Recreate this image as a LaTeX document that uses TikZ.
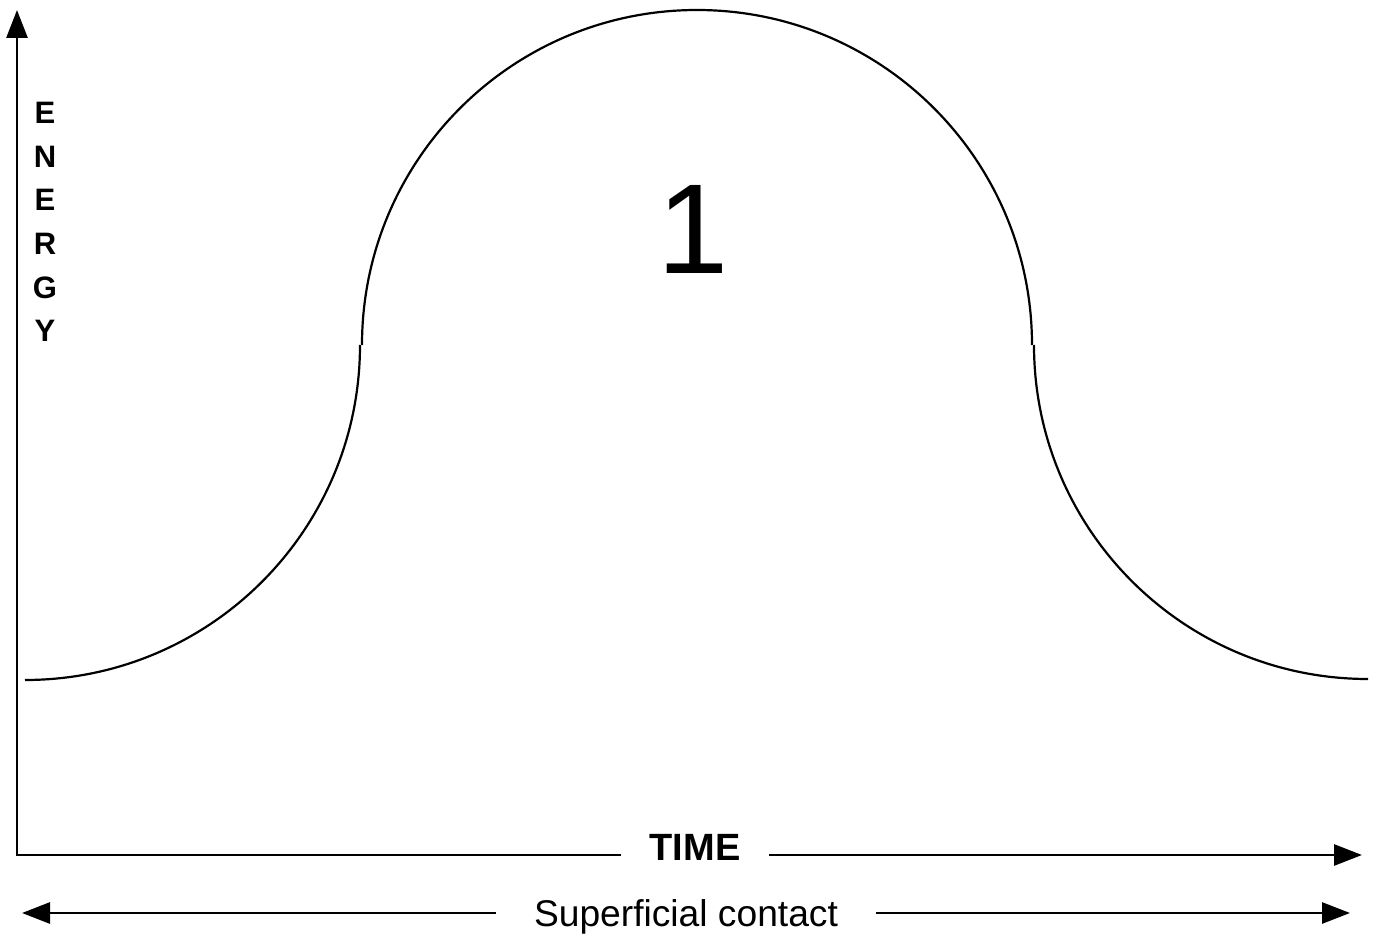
\documentclass[tikz,border=0pt]{standalone}
\usepackage{fontspec}
\setmainfont{Liberation Sans}
\usetikzlibrary{arrows.meta}
\begin{document}
\begin{tikzpicture}[x=0.5pt,y=0.5pt,
  axisline/.style={line width=1.4pt},
  tip/.style={-{Triangle[length=14pt,width=10.5pt]}},
  curveline/.style={line width=1.1pt},
  lbl/.style={inner sep=0pt}]
\useasboundingbox (0,0) rectangle (1378,934);
% coordinates
\coordinate (O) at (17,79);
\coordinate (ytip) at (17,924);
\coordinate (xtip) at (1362,79);
\coordinate (lt) at (22,21);
\coordinate (rt) at (1350,21);
% labels
\node[lbl, anchor=base, inner xsep=14pt, font=\bfseries\fontsize{19}{19}\selectfont] (time) at (695,74) {TIME};
\node[lbl, anchor=base, inner xsep=19pt, font=\fontsize{18.6}{18.6}\selectfont] (sc) at (686,8) {Superficial contact};
\node[lbl, anchor=north, align=center, font=\bfseries\fontsize{15.5}{21.8}\selectfont] (energy) at (45,832) {E\\N\\E\\R\\G\\Y};
\node[lbl, anchor=base, font=\fontsize{64}{64}\selectfont] (one) at (693,661) {1};
% axes
\draw[axisline, {Triangle[length=14pt,width=10.5pt]}-] (ytip) -- (O) -- (O -| time.west);
\draw[axisline, tip] (O -| time.east) -- (xtip);
% bottom double arrow
\draw[axisline, {Triangle[length=14pt,width=10.5pt]}-] (lt) -- (lt -| sc.west);
\draw[axisline, tip] (rt -| sc.east) -- (rt);
% curve
\draw[curveline] (25,254) arc[start angle=-90, end angle=0, radius=167.5pt];
\draw[curveline] (362,589) arc[start angle=180, end angle=0, radius=167.5pt];
\draw[curveline] (1034,589) arc[start angle=180, end angle=270, radius=167pt];
\end{tikzpicture}
\end{document}
